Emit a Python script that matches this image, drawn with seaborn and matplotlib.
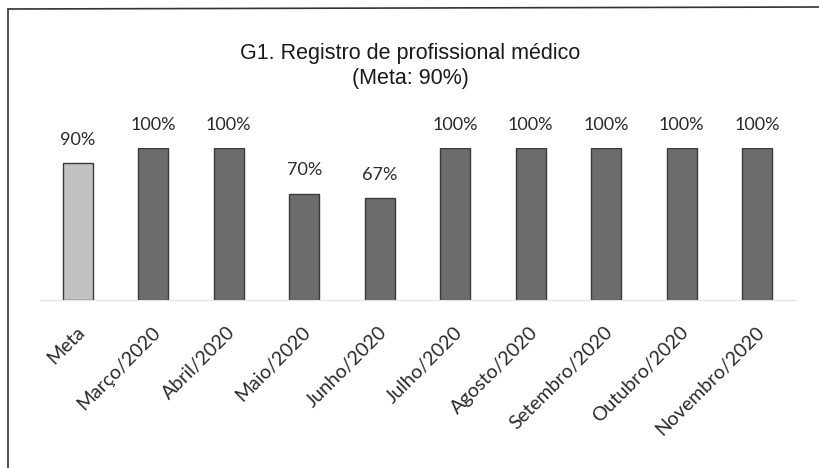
import seaborn as sns
import matplotlib.pyplot as plt
import matplotlib.transforms as mtransforms
import pandas as pd
from matplotlib.lines import Line2D

categories = ["Meta", "Março/2020", "Abril/2020", "Maio/2020", "Junho/2020",
              "Julho/2020", "Agosto/2020", "Setembro/2020", "Outubro/2020", "Novembro/2020"]
values = [90, 100, 100, 70, 67, 100, 100, 100, 100, 100]
kinds = ["meta"] + ["real"] * 9

df = pd.DataFrame({"mes": categories, "valor": values, "tipo": kinds})

sns.set_theme(style="white")
plt.rcParams['font.family'] = ['Lato', 'DejaVu Sans']

fig = plt.figure(figsize=(8.2, 4.68), dpi=100)
ax = fig.add_axes([40 / 820, 168 / 468, 755 / 820, 152 / 468])

sns.barplot(data=df, x="mes", y="valor", hue="tipo",
            palette={"meta": "#c2c2c2", "real": "#6c6c6c"},
            width=0.4, dodge=False, legend=False, ax=ax,
            edgecolor="#3a3a3a", linewidth=1.0)

for cont in ax.containers:
    ax.bar_label(cont, labels=[f"{v:.0f}%" for v in cont.datavalues],
                 padding=11, fontsize=13, color="#2a2a2a")

ax.set_ylim(0, 100)
ax.set_xlim(-0.5, 9.5)
ax.set_xlabel("")
ax.set_ylabel("")
ax.set_yticks([])
for s in ["left", "right", "top"]:
    ax.spines[s].set_visible(False)
ax.spines["bottom"].set_color("#e2e2e2")
ax.spines["bottom"].set_linewidth(0.8)
ax.tick_params(axis="x", length=0, pad=17)
shift = mtransforms.ScaledTranslation(-2 / 100, 0, fig.dpi_scale_trans)
for lab in ax.get_xticklabels():
    lab.set_rotation(45)
    lab.set_ha("right")
    lab.set_rotation_mode("anchor")
    lab.set_fontsize(14)
    lab.set_color("#2a2a2a")
    lab.set_transform(lab.get_transform() + shift)

fig.text(0.5, 1 - 66 / 468, "G1. Registro de profissional médico\n(Meta: 90%)",
         ha="center", va="center", fontsize=15.5, linespacing=1.2,
         family=["Liberation Sans Narrow", "Liberation Sans", "DejaVu Sans"],
         color="#1a1a1a")

# moldura escaneada
fig.add_artist(Line2D([8 / 820, 8 / 820], [0, 1 - 9 / 468], color="#333333", lw=1.2))
fig.add_artist(Line2D([8 / 820, 1], [1 - 9 / 468, 1 - 7 / 468], color="#333333", lw=1.2))

fig.savefig("out.png", dpi=100)
